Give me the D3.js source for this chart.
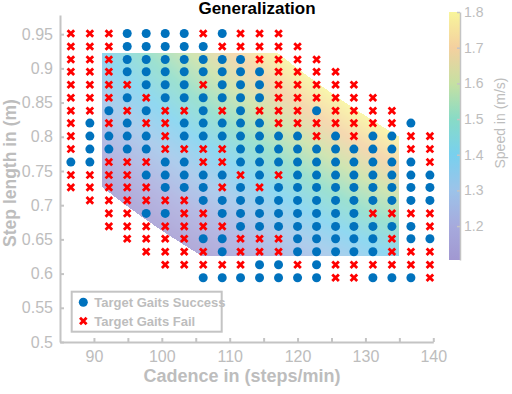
<!DOCTYPE html>
<html>
<head>
<meta charset="utf-8">
<script src="https://cdn.jsdelivr.net/npm/d3@7"></script>
<style>
body { margin: 0; background: #fff; }
svg { font-family: "Liberation Sans", Arial, sans-serif; }
</style>
</head>
<body>
<script>
// grid of tested gaits: columns = cadence, rows = step length (top row first)
var cadence = [86.6, 89.4, 92.2, 94.9, 97.7, 100.5, 103.3, 106.1, 108.9, 111.6,
               114.4, 117.2, 120.0, 122.8, 125.6, 128.3, 131.1, 133.9, 136.7, 139.5];
var stepLength = [0.951, 0.932, 0.913, 0.895, 0.876, 0.857, 0.838, 0.820, 0.801, 0.782,
                  0.763, 0.744, 0.726, 0.707, 0.688, 0.669, 0.651, 0.632, 0.613, 0.594];
// o = success, x = fail, . = not tested   (left 10 columns + right 10 columns)
var outcome = [
  "xxxooooxox" + "xx........",
  "xxxoooooxx" + "xxx.......",
  "xxxooooooo" + "xxxx......",
  "xxxooooooo" + "oxxxx.....",
  "xxxxoooxoo" + "oxxxxx....",
  "xxxoxooooo" + "oxxxxxx...",
  "xxoxoxxoxo" + "xxxoxxxx..",
  "xoxoxxoooo" + "oxxxxxxxo.",
  "xooooxoooo" + "oooxoxooxx",
  "xooooxxxxo" + "ooooooooxx",
  "ooxxxooxxo" + "ooooooooox",
  "xxxxooooox" + "oxoooooooo",
  "xxxxxoooxo" + "xooooooooo",
  ".xxxxxxooo" + "oooooooooo",
  "..xxooxxoo" + "ooooooxxxx",
  "..xxxxxxxo" + "ooooooooox",
  "...xxxxoox" + "xxoooooxoo",
  "....xxxxox" + "xxoooooxxx",
  ".....xxxxx" + "ooxoxxxxxx",
  ".......ooo" + "ooooxxooox"
];
var legendLabels = ["Target Gaits Success", "Target Gaits Fail"];

// coloured speed patch (speed = cadence * step / 60)
var cadenceRange = [91.2, 135];
var stepRange = [0.625, 0.922];
var speedRange = [1.105, 1.8];
var speedStops = [1.105, 1.2, 1.3, 1.4, 1.5, 1.6, 1.7, 1.8];
var speedColors = ["#a198d1", "#a6aadd", "#9cc3e9", "#78d0ee", "#88dbc6", "#c6e0a2", "#f4d09f", "#f8f59b"];
var speedTicks = [1.2, 1.3, 1.4, 1.5, 1.6, 1.7, 1.8];
var xTicks = [90, 95, 100, 105, 110, 115, 120, 125, 130, 135, 140];
var yTicks = [0.5, 0.55, 0.6, 0.65, 0.7, 0.75, 0.8, 0.85, 0.9, 0.95];

var width = 512, height = 394;
var margin = {left: 60, top: 15};
var plotW = 373.3, plotH = 327;
var axisColor = "#c4c4c4", textColor = "#bdbdbd";

var x = d3.scaleLinear().domain([85, 140]).range([0, plotW]);
var y = d3.scaleLinear().domain([0.5, 0.978]).range([plotH, 0]);
var color = d3.scaleLinear().domain(speedStops).range(speedColors).clamp(true);

var svg = d3.select("body").append("svg").attr("width", width).attr("height", height);
var chartGroup = svg.append("g")
    .attr("transform", "translate(" + margin.left + "," + margin.top + ")");

// paint the speed patch pixel by pixel on a canvas, then put it in the svg
var canvas = document.createElement("canvas");
canvas.width = Math.round(plotW);
canvas.height = plotH;
var ctx = canvas.getContext("2d");
var img = ctx.createImageData(canvas.width, canvas.height);
for (var py = 0; py < canvas.height; py++) {
  for (var px = 0; px < canvas.width; px++) {
    var c = x.invert(px + 0.5), s = y.invert(py + 0.5), v = c * s / 60;
    if (c < cadenceRange[0] || c > cadenceRange[1] || s < stepRange[0] || s > stepRange[1]) continue;
    if (v < speedRange[0] || v > speedRange[1]) continue;
    var rgb = d3.rgb(color(v));
    var k = (py * canvas.width + px) * 4;
    img.data[k] = rgb.r; img.data[k + 1] = rgb.g; img.data[k + 2] = rgb.b; img.data[k + 3] = 255;
  }
}
ctx.putImageData(img, 0, 0);
chartGroup.append("image")
    .attr("href", canvas.toDataURL())
    .attr("width", canvas.width).attr("height", canvas.height)
    .attr("opacity", 0.82);

// axes
var xAxis = d3.axisBottom(x).tickValues(xTicks).tickSize(-4).tickSizeOuter(0).tickPadding(9)
    .tickFormat(function(d) { return d % 10 === 0 ? d : ""; });
var yAxis = d3.axisLeft(y).tickValues(yTicks).tickSize(-4).tickSizeOuter(0).tickPadding(7)
    .tickFormat(d3.format("~g"));

chartGroup.append("g").attr("class", "axis x")
    .attr("transform", "translate(0," + plotH + ")")
    .call(xAxis);
chartGroup.append("g").attr("class", "axis y")
    .call(yAxis);

// points
var points = [];
outcome.forEach(function(row, r) {
  row.split("").forEach(function(ch, i) {
    if (ch !== ".") points.push({cadence: cadence[i], step: stepLength[r], ok: ch === "o"});
  });
});

var crossPath = "M-3.3,-3.3L3.3,3.3M-3.3,3.3L3.3,-3.3";

chartGroup.selectAll("circle.ok").data(points.filter(function(d) { return d.ok; }))
  .enter().append("circle").attr("class", "ok")
    .attr("cx", function(d) { return x(d.cadence); })
    .attr("cy", function(d) { return y(d.step); })
    .attr("r", 4.5)
    .attr("fill", "#0072bd");

chartGroup.selectAll("path.fail").data(points.filter(function(d) { return !d.ok; }))
  .enter().append("path").attr("class", "fail")
    .attr("d", crossPath)
    .attr("transform", function(d) { return "translate(" + x(d.cadence) + "," + y(d.step) + ")"; })
    .attr("stroke", "#ff0000").attr("stroke-width", 2.8).attr("fill", "none");

// legend
var legend = svg.append("g").attr("transform", "translate(71.7,291.7)");
legend.append("rect").attr("width", 150).attr("height", 40)
    .attr("fill", "#fff").attr("stroke", axisColor).attr("stroke-width", 2);
legend.append("circle").attr("cx", 11.6).attr("cy", 10.6).attr("r", 4.5).attr("fill", "#0072bd");
legend.append("path").attr("d", crossPath).attr("transform", "translate(11.6,29.3)")
    .attr("stroke", "#ff0000").attr("stroke-width", 2.8).attr("fill", "none");
legend.selectAll("text").data(legendLabels).enter().append("text")
    .attr("x", 22.6).attr("y", function(d, i) { return 15.2 + i * 18.7; })
    .attr("font-size", 13).attr("font-weight", "bold").attr("fill", textColor)
    .text(function(d) { return d; });

// colorbar
var cScale = d3.scaleLinear().domain(speedRange).range([260, 12]);
var grad = svg.append("defs").append("linearGradient").attr("id", "speedGrad")
    .attr("x1", 0).attr("y1", 1).attr("x2", 0).attr("y2", 0);
grad.selectAll("stop").data(speedStops).enter().append("stop")
    .attr("offset", function(d) { return (d - speedRange[0]) / (speedRange[1] - speedRange[0]); })
    .attr("stop-color", function(d) { return color(d); });
svg.append("rect").attr("x", 449).attr("y", 12).attr("width", 11).attr("height", 248)
    .attr("fill", "url(#speedGrad)");
svg.append("g").attr("class", "axis c")
    .attr("transform", "translate(460,0)")
    .call(d3.axisRight(cScale).tickValues(speedTicks).tickSize(-3).tickSizeOuter(0).tickPadding(4)
      .tickFormat(d3.format(".1f")));

svg.selectAll(".axis path, .axis line").attr("stroke", axisColor).attr("stroke-width", 2);
svg.selectAll(".axis.c path, .axis.c line").attr("stroke-width", 1.5);
svg.selectAll(".axis text").attr("fill", textColor).attr("font-size", 16)
    .attr("font-family", "'Liberation Sans', Arial, sans-serif");
svg.selectAll(".axis.c text").attr("font-size", 14);

// titles
svg.append("text").attr("x", 257).attr("y", 14).attr("text-anchor", "middle")
    .attr("font-size", 17).attr("font-weight", "bold").attr("fill", "#000")
    .text("Generalization");
svg.append("text").attr("x", 242).attr("y", 382).attr("text-anchor", "middle")
    .attr("font-size", 18).attr("font-weight", "bold").attr("fill", textColor)
    .text("Cadence in (steps/min)");
svg.append("text").attr("transform", "translate(16,173) rotate(-90)").attr("text-anchor", "middle")
    .attr("font-size", 17.5).attr("font-weight", "bold").attr("fill", textColor)
    .text("Step length in (m)");
svg.append("text").attr("transform", "translate(505,123) rotate(-90)").attr("text-anchor", "middle")
    .attr("font-size", 14).attr("fill", textColor)
    .text("Speed in (m/s)");
</script>
</body>
</html>
